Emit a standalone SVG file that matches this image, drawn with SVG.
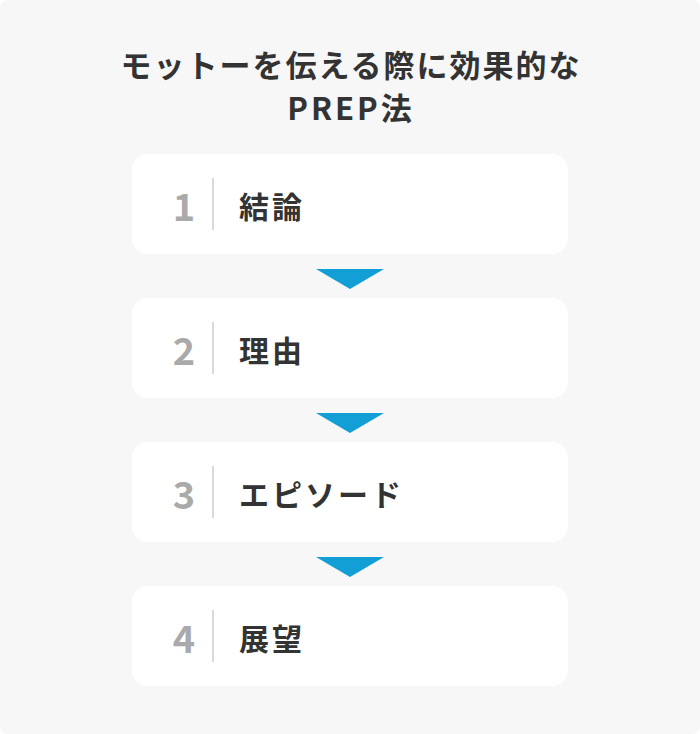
<svg xmlns="http://www.w3.org/2000/svg" width="700" height="734" viewBox="0 0 700 734">
<style>
.bg{fill:#f7f7f7}
.box{fill:#ffffff}
.num{font-family:"Noto Sans CJK JP","Noto Sans",sans-serif;font-weight:700;font-size:38px;fill:#aaaaaa;text-anchor:middle}
.lbl{font-family:"Noto Sans CJK JP",sans-serif;font-weight:700;font-size:30px;fill:#333333;letter-spacing:3px}
.ttl{font-family:"Noto Sans CJK JP",sans-serif;font-weight:700;font-size:31px;fill:#333333;text-anchor:middle;letter-spacing:2px}
.div{stroke:#cccccc;stroke-width:1.5}
.arr{fill:#129fd6}
</style>
<rect class="bg" x="0" y="0" width="700" height="734" rx="8"/>
<g id="title">
<text class="ttl" x="351" y="77">モットーを伝える際に効果的な</text>
<text class="ttl" x="351" y="120" style="letter-spacing:3px">PREP法</text>
</g>
<g id="node1">
<rect class="box" x="132" y="154" width="436" height="100" rx="16"/>
<text class="num" x="184" y="221">1</text>
<line class="div" x1="213" y1="178" x2="213" y2="230"/>
<text class="lbl" x="239" y="218">結論</text>
</g>
<g id="node2">
<rect class="box" x="132" y="298" width="436" height="100" rx="16"/>
<text class="num" x="184" y="365">2</text>
<line class="div" x1="213" y1="322" x2="213" y2="374"/>
<text class="lbl" x="239" y="362">理由</text>
</g>
<g id="node3">
<rect class="box" x="132" y="442" width="436" height="100" rx="16"/>
<text class="num" x="184" y="509">3</text>
<line class="div" x1="213" y1="466" x2="213" y2="518"/>
<text class="lbl" x="239" y="506">エピソード</text>
</g>
<g id="node4">
<rect class="box" x="132" y="586" width="436" height="100" rx="16"/>
<text class="num" x="184" y="653">4</text>
<line class="div" x1="213" y1="610" x2="213" y2="662"/>
<text class="lbl" x="239" y="650">展望</text>
</g>
<g id="connectors">
<polygon class="arr" points="316,269 384,269 350,289"/>
<polygon class="arr" points="316,413 384,413 350,433"/>
<polygon class="arr" points="316,557 384,557 350,577"/>
</g>
</svg>
